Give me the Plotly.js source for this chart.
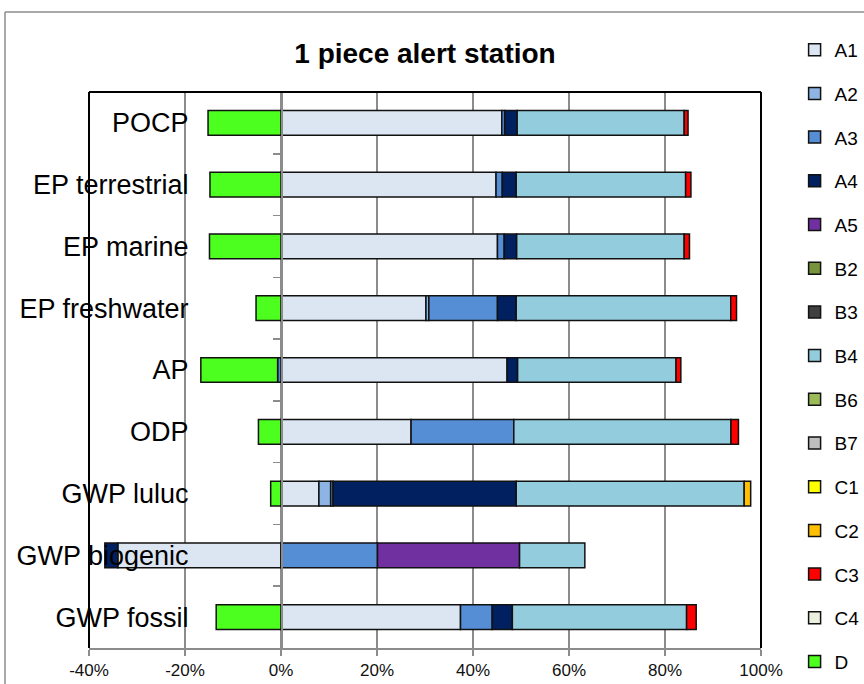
<!DOCTYPE html>
<html>
<head>
<meta charset="utf-8">
<script src="https://cdn.plot.ly/plotly-3.0.1.min.js"></script>
<style>
html,body{margin:0;padding:0;background:#fff;}
#chart{width:864px;height:684px;}
</style>
</head>
<body>
<div id="chart"></div>
<script>
// Categories, top to bottom
var categories = ["POCP", "EP terrestrial", "EP marine", "EP freshwater", "AP", "ODP", "GWP luluc", "GWP biogenic", "GWP fossil"];
var seriesNames = ["A1","A2","A3","A4","A5","B2","B3","B4","B6","B7","C1","C2","C3","C4","D"];
// Values in percent (null = no contribution)
var A1 = [46.0, 44.8, 45.1, 30.2, 47.1, 27.1, 7.9, -34.0, 37.4];
var A2 = [null, null, null, 0.6, null, null, 2.45, null, null];
var A3 = [0.6, 1.3, 1.4, 14.3, -0.7, 21.4, 0.5, 20.1, 6.6];
var A4 = [2.6, 2.9, 2.6, 3.9, 2.2, null, 38.15, -2.7, 4.2];
var A5 = [null, null, null, null, null, null, null, 29.6, null];
var B2 = [null, null, null, null, null, null, null, null, null];
var B3 = [null, null, null, null, null, null, null, null, null];
var B4 = [34.8, 35.3, 34.9, 44.7, 33.0, 45.25, 47.5, 13.6, 36.3];
var B6 = [null, null, null, null, null, null, null, null, null];
var B7 = [null, null, null, null, null, null, null, null, null];
var C1 = [null, null, null, null, null, null, null, null, null];
var C2 = [null, null, null, null, null, null, 1.35, null, null];
var C3 = [0.8, 1.1, 1.1, 1.2, 1.0, 1.55, null, null, 2.0];
var C4 = [null, null, null, null, null, null, null, null, null];
var D  = [-15.2, -14.8, -14.9, -5.2, -16.0, -4.7, -2.15, null, -13.5];
var xTickVals = [-40, -20, 0, 20, 40, 60, 80, 100];
var xTickText = ["-40%", "-20%", "0%", "20%", "40%", "60%", "80%", "100%"];
var chartTitle = "1 piece alert station";

var seriesValues = [A1,A2,A3,A4,A5,B2,B3,B4,B6,B7,C1,C2,C3,C4,D];
var colors = ["#dce6f2","#8eb4e3","#558ed5","#002060","#7030a0","#77933c","#404040","#93cddd","#9bbb59","#bfbfbf","#ffff00","#ffc000","#ff0000","#ebf1de","#4cff1f"];

var FONT = "Liberation Sans, Arial, sans-serif";
var traces = seriesNames.map(function(name, i){
  return {
    type: "bar",
    orientation: "h",
    name: name,
    legendgroup: name,
    y: categories,
    x: seriesValues[i],
    marker: {color: colors[i], line: {color: "#111", width: 1.5}},
    hoverinfo: "x+name"
  };
});

var xmin = -40, xmax = 100;
var zeroPos = (0 - xmin) / (xmax - xmin);

var layout = {
  width: 864, height: 684,
  margin: {l: 89, r: 103, t: 92, b: 36, autoexpand: false},
  paper_bgcolor: "#fff", plot_bgcolor: "#fff",
  barmode: "relative",
  bargap: 0.6,
  font: {family: FONT, color: "#000"},
  title: {text: "<b>" + chartTitle + "</b>", font: {size: 28, family: FONT, color: "#000"},
          x: 0.5, xref: "paper", y: 1 - 53/684, yref: "container", yanchor: "middle"},
  xaxis: {
    range: [xmin, xmax], tickvals: xTickVals, ticktext: xTickText,
    showgrid: true, gridcolor: "#8c8c8c", gridwidth: 1.5,
    zeroline: false, showline: true, linecolor: "#8c8c8c", linewidth: 1.5,
    ticks: "outside", ticklen: 6, tickcolor: "#8c8c8c", tickwidth: 1.5,
    tickfont: {size: 17, family: FONT, color: "#111"}
  },
  yaxis: {
    type: "category", categoryorder: "array", categoryarray: categories,
    range: [8.5, -0.5],
    anchor: "free", position: zeroPos,
    showgrid: false, zeroline: false,
    showline: true, linecolor: "#8c8c8c", linewidth: 1.5,
    ticks: "outside", tickson: "boundaries", ticklen: 8, tickcolor: "#8c8c8c", tickwidth: 1.5,
    ticklabelstandoff: 87,
    tickfont: {size: 27, family: FONT, color: "#000"}
  },
  legend: {
    x: 1.05, xanchor: "left", y: 1.11, yanchor: "top",
    traceorder: "grouped", tracegroupgap: 16, maxheight: 684,
    font: {size: 19, family: FONT, color: "#000"},
    bgcolor: "rgba(0,0,0,0)", itemclick: false
  },
  shapes: [
    // plot area border (left, top, right)
    {type: "line", xref: "paper", yref: "paper", x0: 0, x1: 0, y0: 0, y1: 1, line: {color: "#000", width: 2}},
    {type: "line", xref: "paper", yref: "paper", x0: 0, x1: 1, y0: 1, y1: 1, line: {color: "#000", width: 2}},
    {type: "line", xref: "paper", yref: "paper", x0: 1, x1: 1, y0: 0, y1: 1, line: {color: "#000", width: 2}},
    // outer chart border (left, top)
    {type: "line", xref: "paper", yref: "paper", x0: -84/672, x1: -84/672, y0: -40/556, y1: 636/556, line: {color: "#8c8c8c", width: 1.5}},
    {type: "line", xref: "paper", yref: "paper", x0: -84/672, x1: 780/672, y0: 636/556, y1: 636/556, line: {color: "#8c8c8c", width: 1.5}}
  ],
  showlegend: true
};

Plotly.newPlot("chart", traces, layout, {displayModeBar: false, staticPlot: true});
</script>
</body>
</html>
